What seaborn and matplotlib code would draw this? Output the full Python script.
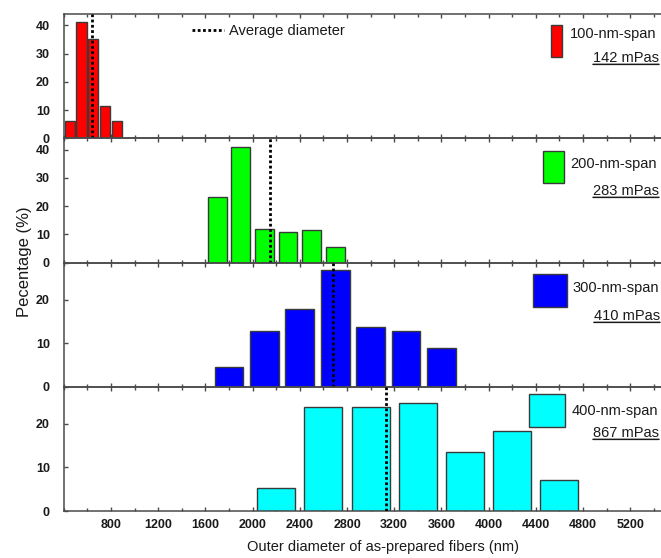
import matplotlib
matplotlib.use("Agg")
import matplotlib.pyplot as plt
from matplotlib.patches import Rectangle
from matplotlib.ticker import FixedLocator, MultipleLocator
import seaborn as sns

# ---------------- data ----------------
span_labels = ["100-nm-span", "200-nm-span", "300-nm-span", "400-nm-span"]
viscosity_labels = ["142 mPas", "283 mPas", "410 mPas", "867 mPas"]
bar_colors = ["#ff0000", "#00ff00", "#0000ff", "#00ffff"]

d100 = [450, 550, 650, 750, 850]
p100 = [6.0, 41.0, 35.0, 11.5, 6.0]
d200 = [1700, 1900, 2100, 2300, 2500, 2700]
p200 = [23.3, 40.9, 11.8, 10.9, 11.4, 5.5]
d300 = [1800, 2100, 2400, 2700, 3000, 3300, 3600]
p300 = [4.5, 12.7, 17.9, 26.8, 13.6, 12.7, 8.9]
d400 = [2200, 2600, 3000, 3400, 3800, 4200, 4600]
p400 = [5.2, 23.9, 23.9, 24.8, 13.5, 18.4, 7.1]
avg_diameter = [640, 2150, 2680, 3130]

x_ticks = [800, 1200, 1600, 2000, 2400, 2800, 3200, 3600, 4000, 4400, 4800, 5200]
y_ticks = [[0, 10, 20, 30, 40], [0, 10, 20, 30, 40], [0, 10, 20], [0, 10, 20]]
y_max = [44, 44, 28.5, 28.5]

diameters = [d100, d200, d300, d400]
percents = [p100, p200, p300, p400]
bar_width = [0.85, 0.8, 0.81, 0.805]

# ---------------- style ----------------
sns.set_style("white")
plt.rcParams["font.family"] = ["Liberation Sans", "DejaVu Sans"]
TXT = "#1a1a1a"
SPINE = "#4a4a4a"

W, H = 661, 558
fig = plt.figure(figsize=(W / 100, H / 100), dpi=100)


def fx(px):
    return px / W


def fy(py):
    return 1 - py / H


# axes geometry (pixels): x from 400 nm at 63.8 px, 0.118 px per nm
x_left_px, x_right_px = 63.8, 63.8 + 5400 * 0.118
edges = [14, 138.25, 262.5, 386.75, 511]
axes = []
for i in range(4):
    top, bot = edges[i], edges[i + 1]
    ax = fig.add_axes([fx(x_left_px), fy(bot), (x_right_px - x_left_px) / W, (bot - top) / H])
    axes.append(ax)

for i, ax in enumerate(axes):
    sns.barplot(x=diameters[i], y=percents[i], native_scale=True, width=bar_width[i],
                color=bar_colors[i], saturation=1, edgecolor="#3a3a3a", linewidth=1.0,
                errorbar=None, ax=ax, zorder=2)
    ax.axvline(avg_diameter[i], color="black", linestyle=(0, (1, 0.9)), linewidth=2.0,
               zorder=3, label="Average diameter" if i == 0 else None)
    ax.set_xlim(400, 5800)
    ax.set_ylim(0, y_max[i])
    ax.xaxis.set_major_locator(FixedLocator(x_ticks))
    ax.xaxis.set_minor_locator(MultipleLocator(200))
    ax.yaxis.set_major_locator(FixedLocator(y_ticks[i]))
    ax.tick_params(axis="x", which="both", direction="in", top=True, bottom=True,
                   color=SPINE, width=1.0, labelsize=9, labelcolor=TXT, pad=6)
    ax.tick_params(axis="x", which="major", length=3.2)
    ax.tick_params(axis="x", which="minor", length=2.0)
    ax.tick_params(axis="y", which="major", direction="in", left=True, length=3,
                   color=SPINE, width=1.0, labelsize=9, labelcolor=TXT, pad=10)
    for lab in ax.get_yticklabels() + ax.get_xticklabels():
        lab.set_fontweight("bold")
    if i < 3:
        ax.tick_params(axis="x", labelbottom=False)
    ax.set_xlabel("")
    ax.set_ylabel("")
    for s in ax.spines.values():
        s.set_color(SPINE)
        s.set_linewidth(1.1)
    ax.set_facecolor("white")
    ax.patch.set_alpha(0)

# "Average diameter" legend in the first panel
axes[0].legend(loc="upper left", bbox_to_anchor=(fx(192), fy(24)), bbox_transform=fig.transFigure,
               frameon=False, borderpad=0, borderaxespad=0, handlelength=2.2,
               handletextpad=0.35, fontsize=10.5, labelcolor=TXT)

# series keys (bar swatch, span label and underlined viscosity)
key_rects = [(550.7, 24.7, 561.7, 57.3), (542.7, 150.7, 564.0, 183.3),
             (533.0, 274.0, 566.7, 307.3), (529.3, 394.3, 565.0, 426.7)]
key_text1 = [(570, 38.2), (570, 168.2), (572.5, 291.7), (571.5, 415.2)]
key_text2 = [(659, 62.2), (659, 195.2), (660, 320.2), (659, 437.2)]
for i in range(4):
    x0, y0, x1, y1 = key_rects[i]
    fig.add_artist(Rectangle((fx(x0), fy(y1)), (x1 - x0) / W, (y1 - y0) / H,
                             transform=fig.transFigure, facecolor=bar_colors[i],
                             edgecolor="#3a3a3a", linewidth=1.0))
    fig.text(fx(key_text1[i][0]), fy(key_text1[i][1]), span_labels[i], ha="left",
             va="baseline", fontsize=10.5, color=TXT)
    t2 = fig.text(fx(key_text2[i][0]), fy(key_text2[i][1]), viscosity_labels[i], ha="right",
                  va="baseline", fontsize=10.5, color=TXT)
    axes[i].annotate("", xy=(1, 0.06), xycoords=t2, xytext=(0, 0.06), textcoords=t2,
                     arrowprops=dict(arrowstyle="-", lw=1.1, color=TXT, shrinkA=0, shrinkB=0),
                     annotation_clip=False)

fig.text(fx(25), fy(262), "Pecentage (%)", rotation=90, ha="center", va="center",
         fontsize=12, color=TXT)
fig.text(fx(383), fy(547), "Outer diameter of as-prepared fibers (nm)", ha="center",
         va="center", fontsize=10.5, color=TXT)

fig.savefig("out.png", dpi=100, facecolor="white")
